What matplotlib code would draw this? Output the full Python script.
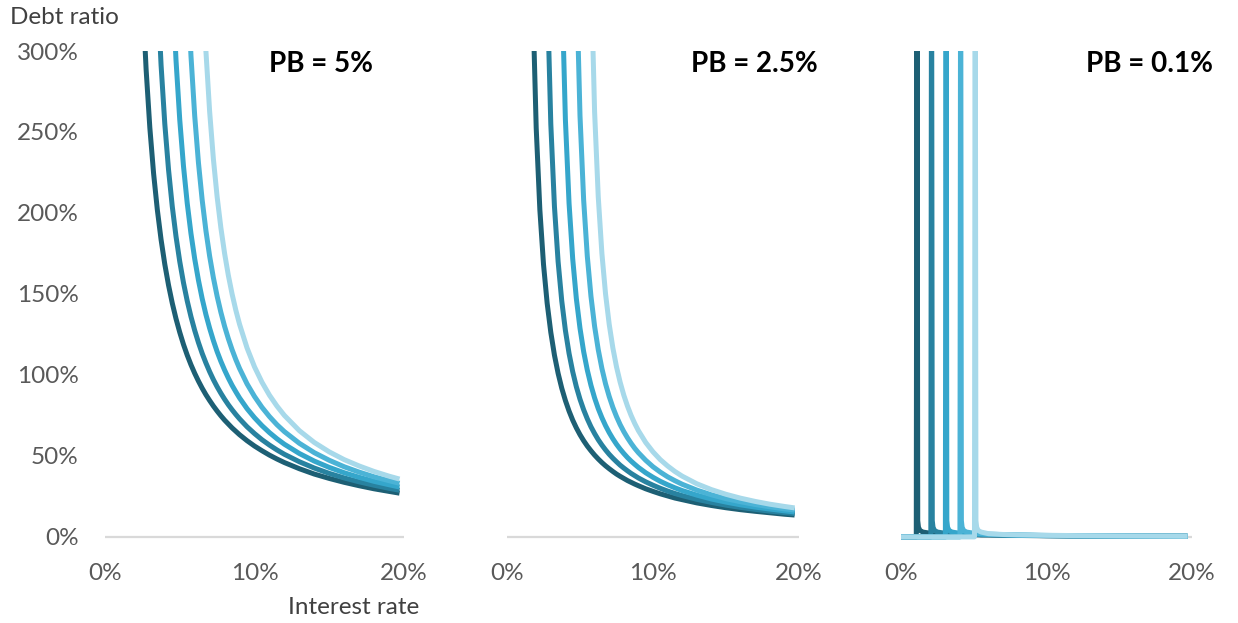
import numpy as np
import matplotlib.pyplot as plt

plt.rcParams['font.family'] = ['Lato', 'DejaVu Sans']

nan = np.nan

# interest rate grid (%) used by the PB = 5% and PB = 2.5% panels
rates = [1.0, 1.25, 1.5, 1.75, 2.0, 2.25, 2.5, 2.75, 3.0, 3.25, 3.5, 3.75, 4.0,
         4.25, 4.5, 4.75, 5.0, 5.25, 5.5, 5.75, 6.0, 6.25, 6.5, 6.75, 7.0, 7.25,
         7.5, 7.75, 8.0, 8.25, 8.5, 8.75, 9.0, 9.5, 10, 10.5, 11, 11.5, 12, 13, 14,
         15, 16, 17, 18, 19, 19.7]

pb5_g1 = [nan] * 6 + [336.7, 288.6, 252.5, 224.4, 202.0, 183.6, 168.3, 155.4, 144.3,
                      134.7, 126.3, 118.8, 112.2, 106.3, 101.0, 96.2, 91.8, 87.8, 84.2,
                      80.8, 77.7, 74.8, 72.1, 69.7, 67.3, 65.2, 63.1, 59.4, 56.1, 53.2,
                      50.5, 48.1, 45.9, 42.1, 38.8, 36.1, 33.7, 31.6, 29.7, 28.1, 27.0]
pb5_g2 = [nan] * 10 + [340.0, 291.4, 255.0, 226.7, 204.0, 185.5, 170.0, 156.9, 145.7,
                       136.0, 127.5, 120.0, 113.3, 107.4, 102.0, 97.1, 92.7, 88.7, 85.0,
                       81.6, 78.5, 75.6, 72.9, 68.0, 63.8, 60.0, 56.7, 53.7, 51.0, 46.4,
                       42.5, 39.2, 36.4, 34.0, 31.9, 30.0, 28.8]
pb5_g3 = [nan] * 14 + [343.3, 294.3, 257.5, 228.9, 206.0, 187.3, 171.7, 158.5, 147.1,
                       137.3, 128.8, 121.2, 114.4, 108.4, 103.0, 98.1, 93.6, 89.6, 85.8,
                       79.2, 73.6, 68.7, 64.4, 60.6, 57.2, 51.5, 46.8, 42.9, 39.6, 36.8,
                       34.3, 32.2, 30.8]
pb5_g4 = [nan] * 18 + [346.7, 297.1, 260.0, 231.1, 208.0, 189.1, 173.3, 160.0, 148.6,
                       138.7, 130.0, 122.4, 115.6, 109.5, 104.0, 94.5, 86.7, 80.0, 74.3,
                       69.3, 65.0, 57.8, 52.0, 47.3, 43.3, 40.0, 37.1, 34.7, 33.1]
pb5_g5 = [nan] * 22 + [350.0, 300.0, 262.5, 233.3, 210.0, 190.9, 175.0, 161.5, 150.0,
                       140.0, 131.3, 116.7, 105.0, 95.5, 87.5, 80.8, 75.0, 65.6, 58.3,
                       52.5, 47.7, 43.8, 40.4, 37.5, 35.7]

pb25_g1 = [nan] * 3 + [336.7, 252.5, 202.0, 168.3, 144.3, 126.3, 112.2, 101.0, 91.8,
                       84.2, 77.7, 72.1, 67.3, 63.1, 59.4, 56.1, 53.2, 50.5, 48.1, 45.9,
                       43.9, 42.1, 40.4, 38.8, 37.4, 36.1, 34.8, 33.7, 32.6, 31.6, 29.7,
                       28.1, 26.6, 25.3, 24.0, 23.0, 21.0, 19.4, 18.0, 16.8, 15.8, 14.9,
                       14.0, 13.5]
pb25_g2 = [nan] * 7 + [340.0, 255.0, 204.0, 170.0, 145.7, 127.5, 113.3, 102.0, 92.7,
                       85.0, 78.5, 72.9, 68.0, 63.8, 60.0, 56.7, 53.7, 51.0, 48.6, 46.4,
                       44.3, 42.5, 40.8, 39.2, 37.8, 36.4, 34.0, 31.9, 30.0, 28.3, 26.8,
                       25.5, 23.2, 21.3, 19.6, 18.2, 17.0, 15.9, 15.0, 14.4]
pb25_g3 = [nan] * 11 + [343.3, 257.5, 206.0, 171.7, 147.1, 128.8, 114.4, 103.0, 93.6,
                        85.8, 79.2, 73.6, 68.7, 64.4, 60.6, 57.2, 54.2, 51.5, 49.0, 46.8,
                        44.8, 42.9, 39.6, 36.8, 34.3, 32.2, 30.3, 28.6, 25.8, 23.4, 21.5,
                        19.8, 18.4, 17.2, 16.1, 15.4]
pb25_g4 = [nan] * 15 + [346.7, 260.0, 208.0, 173.3, 148.6, 130.0, 115.6, 104.0, 94.5,
                        86.7, 80.0, 74.3, 69.3, 65.0, 61.2, 57.8, 54.7, 52.0, 47.3, 43.3,
                        40.0, 37.1, 34.7, 32.5, 28.9, 26.0, 23.6, 21.7, 20.0, 18.6, 17.3,
                        16.6]
pb25_g5 = [nan] * 19 + [350.0, 262.5, 210.0, 175.0, 150.0, 131.3, 116.7, 105.0, 95.5,
                        87.5, 80.8, 75.0, 70.0, 65.6, 58.3, 52.5, 47.7, 43.8, 40.4, 37.5,
                        32.8, 29.2, 26.3, 23.9, 21.9, 20.2, 18.8, 17.9]

# PB = 0.1% panel: near-vertical drop at each growth rate
rates_01 = [0, 1.05, 1.1, 1.15, 1.2, 1.3, 1.5, 2.05, 2.1, 2.15, 2.2, 2.3, 2.5,
            3.05, 3.1, 3.15, 3.2, 3.3, 3.5, 4.05, 4.1, 4.15, 4.2, 4.3, 4.5,
            5.05, 5.1, 5.15, 5.2, 5.3, 5.5, 6, 7, 8, 10, 12, 15, 19.7]
pb01_g1 = [0, 0, 400, 10, 6, 4, 3, 2.2, 2.2, 2.1, 2.1, 2.1, 2.0, 1.8, 1.8, 1.8, 1.8,
           1.7, 1.7, 1.5, 1.5, 1.5, 1.5, 1.5, 1.4, 1.3, 1.3, 1.3, 1.3, 1.3, 1.2,
           1.2, 1.0, 0.9, 0.7, 0.6, 0.5, 0.4]
pb01_g2 = [0] * 7 + [0, 400, 10, 6, 4, 3, 2.2, 2.2, 2.1, 2.1, 2.1, 2.0, 1.8, 1.8, 1.8,
                     1.8, 1.7, 1.7, 1.5, 1.5, 1.5, 1.5, 1.5, 1.4, 1.3, 1.1, 1.0, 0.8,
                     0.6, 0.5, 0.4]
pb01_g3 = [0] * 13 + [0, 400, 10, 6, 4, 3, 2.2, 2.2, 2.1, 2.1, 2.1, 2.0, 1.8, 1.8, 1.8,
                      1.8, 1.7, 1.7, 1.5, 1.3, 1.1, 0.8, 0.7, 0.5, 0.4]
pb01_g4 = [0] * 19 + [0, 400, 10, 6, 4, 3, 2.2, 2.2, 2.1, 2.1, 2.1, 2.0, 1.7, 1.4, 1.2,
                      0.9, 0.7, 0.6, 0.4]
pb01_g5 = [0] * 25 + [0, 400, 10, 6, 4, 3, 2.0, 1.5, 1.3, 1.0, 0.8, 0.6, 0.4]

panel_titles = ['PB = 5%', 'PB = 2.5%', 'PB = 0.1%']
y_ticks = [0, 50, 100, 150, 200, 250, 300]
x_ticks = [0, 10, 20]

colors = ['#1d5f74', '#2882a0', '#35a6cb', '#4bb3d6', '#a7d9ea']

W, H = 1238, 623


def px_rect(left, width, top=51, bottom=545):
    return [left / W, (H - bottom) / H, width / W, (bottom - top) / H]


def draw_panel(ax, x, series, show_y):
    for ys, c in zip(series, colors):
        ax.plot(x, np.array(ys, dtype=float), color=c, lw=3.6,
                solid_capstyle='butt', solid_joinstyle='round')
    ax.axhline(0, color='#d9d9d9', lw=1.6, zorder=0)
    ax.set_xlim(0, 20)
    ax.set_ylim(-5, 300)
    for s in ax.spines.values():
        s.set_visible(False)
    ax.set_xticks(x_ticks)
    ax.set_xticklabels([f'{t}%' for t in x_ticks])
    ax.tick_params(axis='x', length=0, pad=13, labelsize=17.5, labelcolor='#595959')
    if show_y:
        ax.set_yticks(y_ticks)
        ax.set_yticklabels([f'{t}%' for t in y_ticks])
        ax.tick_params(axis='y', length=0, pad=19, labelsize=17.5, labelcolor='#595959')
    else:
        ax.set_yticks([])


fig = plt.figure(figsize=(W / 100, H / 100), dpi=100)
ax1 = fig.add_axes(px_rect(105, 299))
ax2 = fig.add_axes(px_rect(507, 292))
ax3 = fig.add_axes(px_rect(901, 291))

draw_panel(ax1, rates, [pb5_g1, pb5_g2, pb5_g3, pb5_g4, pb5_g5], True)
draw_panel(ax2, rates, [pb25_g1, pb25_g2, pb25_g3, pb25_g4, pb25_g5], False)
draw_panel(ax3, rates_01, [pb01_g1, pb01_g2, pb01_g3, pb01_g4, pb01_g5], False)

for right, title in zip([373, 818, 1213], panel_titles):
    fig.text(right / W, 1 - 64 / H, title, ha='right', va='center',
             fontsize=20, fontweight='bold', color='black')

fig.text(10 / W, 1 - 18 / H, 'Debt ratio', ha='left', va='center',
         fontsize=17.5, color='#404040')
fig.text(354 / W, 1 - 607 / H, 'Interest rate', ha='center', va='center',
         fontsize=17.5, color='#404040')

fig.savefig('out.png', dpi=100)
